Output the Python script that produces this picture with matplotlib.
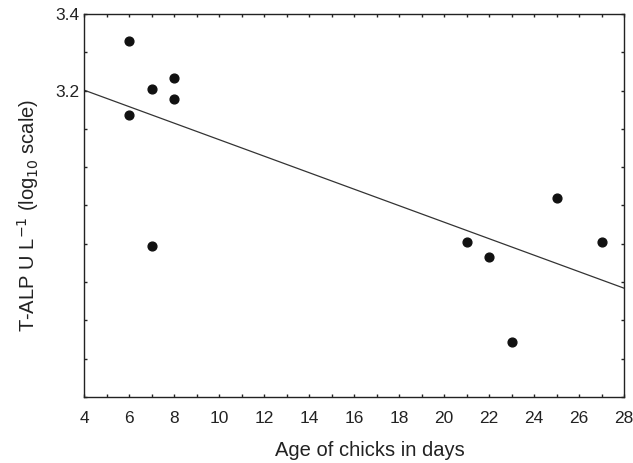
import numpy as np
import matplotlib.pyplot as plt
from matplotlib.ticker import MultipleLocator

plt.rcParams['font.family'] = ['Liberation Sans', 'DejaVu Sans']

age = [6, 6, 7, 7, 8, 8, 21, 22, 23, 25, 27]
talp = [3.33, 3.136, 3.204, 2.794, 3.233, 3.178, 2.805, 2.766, 2.544, 2.920, 2.805]
yticks = [2.4, 2.6, 2.8, 3.0, 3.2, 3.4]
ytick_labels = ['', '', '', '', '3.2', '3.4']

fig = plt.figure(figsize=(6.33, 4.63), dpi=100)
ax = fig.add_axes([84 / 633, 66 / 463, 540 / 633, 383 / 463])

ax.scatter(age, talp, s=40, color='#111111', zorder=3)

slope, icpt = np.polyfit(age, talp, 1)
xl = np.array([4, 28])
ax.plot(xl, icpt + slope * xl, color='#333333', lw=0.9)

ax.set_xlim(4, 28)
ax.set_ylim(2.4, 3.4)
ax.xaxis.set_major_locator(MultipleLocator(2))
ax.xaxis.set_minor_locator(MultipleLocator(1))
ax.set_yticks(yticks)
ax.set_yticklabels(ytick_labels)
ax.yaxis.set_minor_locator(MultipleLocator(0.1))
ax.tick_params(which='both', direction='in', length=2.5, width=1,
               top=True, right=True, labelsize=12.5, colors='#222222')
ax.tick_params(axis='x', pad=10)
ax.tick_params(axis='y', pad=3)

for s in ax.spines.values():
    s.set_linewidth(1)
    s.set_color('#222222')

fig.text(370 / 633, 1 - 450 / 463, 'Age of chicks in days',
         ha='center', va='center', fontsize=14.5, color='#222222')
fig.text(28 / 633, 1 - 215 / 463, 'T-ALP U L$^{-1}$ (log$_{10}$ scale)',
         rotation=90, ha='center', va='center', fontsize=14.5, color='#222222')

fig.savefig('out.png', dpi=100)
